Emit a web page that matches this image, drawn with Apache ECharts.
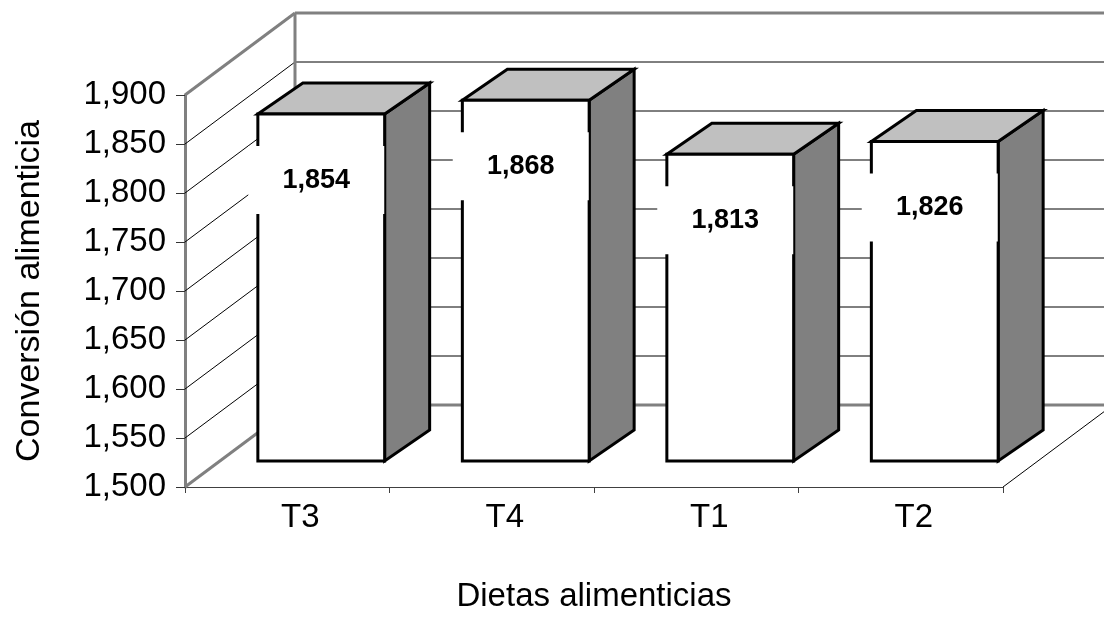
<!DOCTYPE html>
<html>
<head>
<meta charset="utf-8">
<script src="https://cdn.jsdelivr.net/npm/echarts@6/dist/echarts.min.js"></script>
<style>
  html, body { margin: 0; padding: 0; background: #fff; }
  #chart { width: 1104px; height: 618px; }
</style>
</head>
<body>
<div id="chart"></div>
<script>
// Feed conversion per diet
const categories = ['T3', 'T4', 'T1', 'T2'];
const conversion = [1.854, 1.868, 1.813, 1.826];
const yTicks = [1.5, 1.55, 1.6, 1.65, 1.7, 1.75, 1.8, 1.85, 1.9];

const Y_MIN = yTicks[0];
const Y_MAX = yTicks[yTicks.length - 1];

// pseudo-3D geometry (pixels)
const WALL_DEPTH = [110, -82];   // front edge -> back wall
const BAR_SHIFT = [34, -26];     // bar front face sits a little behind the front edge
const BAR_DEPTH = [45, -31];     // visible depth of each box
const BAR_RATIO = 0.62;          // front face width relative to category band

const FONT = '"Liberation Sans", Arial, sans-serif';
const fmt = v => v.toFixed(3).replace('.', ',');

const chart = echarts.init(document.getElementById('chart'), null, { renderer: 'canvas' });

function renderWalls(params, api) {
  const cs = params.coordSys;
  const v = api.value(1);
  const y = api.coord([0, v])[1];
  const xl = cs.x, xr = cs.x + cs.width;
  const [dx, dy] = WALL_DEPTH;
  const edge = (v === Y_MIN || v === Y_MAX);
  const style = edge ? { stroke: '#808080', lineWidth: 3 } : { stroke: '#000', lineWidth: 1 };
  const children = [
    { type: 'line', shape: { x1: xl, y1: y, x2: xl + dx, y2: y + dy }, style },
    { type: 'line', shape: { x1: xl + dx, y1: y + dy, x2: xr + dx + 20, y2: y + dy }, style }
  ];
  if (v === Y_MAX) {
    const yb = api.coord([0, Y_MIN])[1];
    children.push({ type: 'line', shape: { x1: xl + dx, y1: y + dy, x2: xl + dx, y2: yb + dy },
      style: { stroke: '#808080', lineWidth: 3 } });
  }
  if (v === Y_MIN) {
    children.push({ type: 'line', shape: { x1: xr, y1: y, x2: xr + dx, y2: y + dy },
      style: { stroke: '#000', lineWidth: 1 } });
  }
  return { type: 'group', children };
}

function renderBox(params, api) {
  const idx = api.value(0);
  const v = api.value(1);
  const top = api.coord([idx, v]);
  const base = api.coord([idx, Y_MIN]);
  const band = api.size([1, 0])[0];
  const w = band * BAR_RATIO;
  const x0 = top[0] - w / 2 + BAR_SHIFT[0];
  const x1 = x0 + w;
  const yt = top[1] + BAR_SHIFT[1];
  const yb = base[1] + BAR_SHIFT[1];
  const [ddx, ddy] = BAR_DEPTH;
  const stroke = { stroke: '#000', lineWidth: 3, lineJoin: 'miter' };
  const lx = x0 + w / 2 - 5;
  const ly = yt + 66;
  return {
    type: 'group',
    children: [
      { type: 'polygon', shape: { points: [[x1, yt], [x1 + ddx, yt + ddy], [x1 + ddx, yb + ddy], [x1, yb]] },
        style: Object.assign({ fill: '#808080' }, stroke) },
      { type: 'polygon', shape: { points: [[x0, yt], [x0 + ddx, yt + ddy], [x1 + ddx, yt + ddy], [x1, yt]] },
        style: Object.assign({ fill: '#c0c0c0' }, stroke) },
      { type: 'rect', shape: { x: x0, y: yt, width: w, height: yb - yt },
        style: Object.assign({ fill: '#fff' }, stroke) },
      { type: 'rect', shape: { x: lx - 68, y: ly - 34, width: 136, height: 68 },
        style: { fill: '#fff' } },
      { type: 'text', x: lx, y: ly,
        style: { text: fmt(v), fill: '#000', font: 'bold 27px ' + FONT,
                 align: 'center', verticalAlign: 'middle' } }
    ]
  };
}

chart.setOption({
  animation: false,
  backgroundColor: '#fff',
  grid: { left: 185, right: 101, top: 95, bottom: 123, containLabel: false },
  xAxis: {
    type: 'category',
    data: categories,
    boundaryGap: true,
    name: 'Dietas alimenticias',
    nameLocation: 'middle',
    nameGap: 93,
    nameTextStyle: { fontFamily: FONT, fontSize: 33, color: '#000' },
    axisLine: { show: true, lineStyle: { color: '#404040', width: 1 } },
    axisTick: { show: true, length: 6, lineStyle: { color: '#404040' } },
    axisLabel: { fontFamily: FONT, fontSize: 33, color: '#000', margin: 14, padding: [0, 0, 0, 26] },
    splitLine: { show: false }
  },
  yAxis: {
    type: 'value',
    min: Y_MIN,
    max: Y_MAX,
    interval: 0.05,
    name: 'Conversión alimenticia',
    nameLocation: 'middle',
    nameGap: 138,
    nameTextStyle: { fontFamily: FONT, fontSize: 34, color: '#000' },
    axisLine: { show: true, lineStyle: { color: '#808080', width: 3 } },
    axisTick: { show: true, length: 9, lineStyle: { color: '#333', width: 1 } },
    axisLabel: { fontFamily: FONT, fontSize: 33, color: '#000', margin: 19, formatter: fmt },
    splitLine: { show: false }
  },
  series: [
    {
      type: 'custom',
      silent: true,
      z: 1,
      clip: false,
      renderItem: renderWalls,
      encode: { x: 0, y: 1 },
      data: yTicks.map(v => [0, v])
    },
    {
      type: 'custom',
      silent: true,
      z: 3,
      clip: false,
      renderItem: renderBox,
      encode: { x: 0, y: 1 },
      data: conversion.map((v, i) => [i, v])
    }
  ]
});
</script>
</body>
</html>
